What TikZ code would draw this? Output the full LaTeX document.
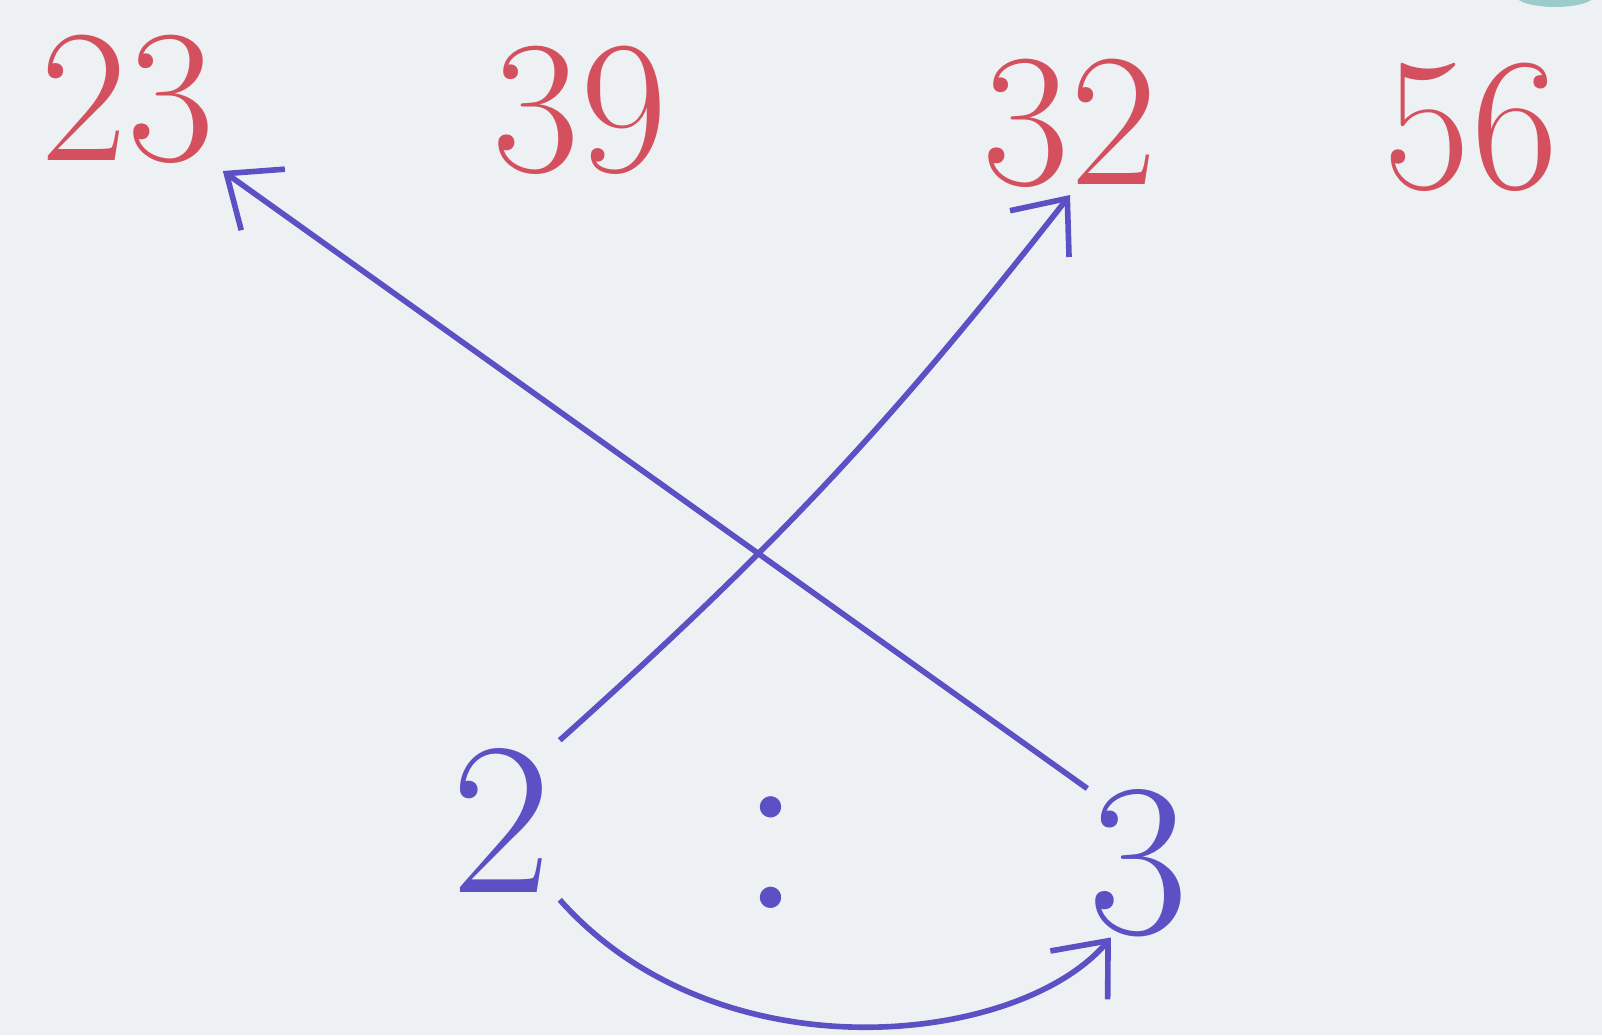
\documentclass[tikz,border=0pt]{standalone}
\usetikzlibrary{arrows.meta}

\definecolor{numred}{HTML}{D4505F}
\definecolor{penblue}{HTML}{5B50C4}
\definecolor{paper}{HTML}{EEF1F3}

\begin{document}
\begin{tikzpicture}

\tikzset{
  top num/.style={
    text=numred,
    inner sep=2pt,
    font=\fontsize{54}{60}\selectfont,
  },
  bottom num/.style={
    text=penblue,
    inner sep=2pt,
    font=\fontsize{62}{66}\selectfont,
  },
  pen arrow/.style={
    draw=penblue,
    line width=1.6pt,
    -{Straight Barb[length=0.45cm,width=0.75cm,line width=1.6pt]},
  }
}

% Background (fixes the page size)
\fill[paper] (0,0) rectangle (16.02,10.35);
\useasboundingbox (0,0) rectangle (16.02,10.35);
\fill[teal!60,opacity=0.6] (15.55,10.4) ellipse (0.4 and 0.12);

% Top row
\node[top num] (n23) at (1.28,9.36) {23};
\node[top num] (n39) at (5.80,9.25) {39};
\node[top num] (n32) at (10.70,9.12) {32};
\node[top num] (n56) at (14.71,9.08) {56};

% Bottom ratio
\node[bottom num] (two) at (5.02,2.15) {2};
\node[bottom num,font=\fontsize{74}{78}\selectfont] (colon) at (7.71,1.82) {:};
\node[bottom num,inner sep=0pt] (three) at (11.38,1.72) {3};

% Arrows
\draw[pen arrow] (three.north west) -- (n23.south east);
\draw[pen arrow] (two.north east) to[bend right=5] (n32.south);
\draw[pen arrow] (two.south east) .. controls (7.2,-0.45) and (10.2,-0.1) .. (three.250);

\end{tikzpicture}
\end{document}
